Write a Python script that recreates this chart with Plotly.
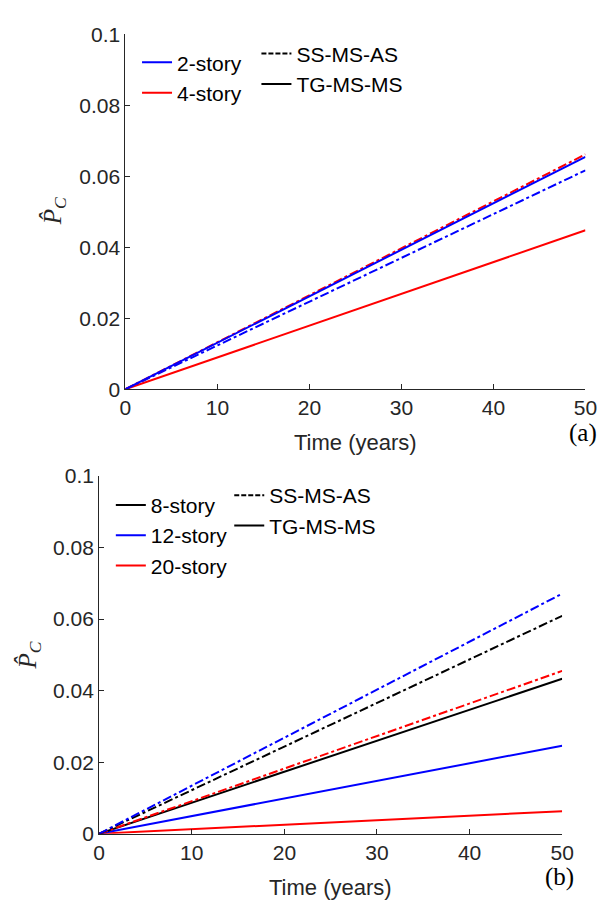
import plotly.graph_objects as go

# ---------------- data ----------------
time_years = [0, 50]

# (a) 2-story and 4-story
a_2story_ss = [0.0, 0.0617]
a_2story_tg = [0.0, 0.0655]
a_4story_ss = [0.0, 0.0662]
a_4story_tg = [0.0, 0.0448]

# (b) 8-, 12-, 20-story
b_8story_ss = [0.0, 0.0609]
b_8story_tg = [0.0, 0.0433]
b_12story_ss = [0.0, 0.0671]
b_12story_tg = [0.0, 0.0246]
b_20story_ss = [0.0, 0.0455]
b_20story_tg = [0.0, 0.0063]

x_ticks = [0, 10, 20, 30, 40, 50]
y_ticks = [0, 0.02, 0.04, 0.06, 0.08, 0.1]
y_ticktext = ["0", "0.02", "0.04", "0.06", "0.08", "0.1"]

W, H = 613, 910
BLUE, RED, BLACK = "#0000FF", "#FF0000", "#000000"
AX = "#262626"
LW = 2

fig = go.Figure()

def line(x, y, color, dash, xa, ya):
    fig.add_trace(go.Scatter(x=x, y=y, mode="lines", xaxis=xa, yaxis=ya,
                             line=dict(color=color, width=LW, dash=dash),
                             showlegend=False, hoverinfo="skip"))

# panel (a)
line(time_years, a_4story_tg, RED, "solid", "x", "y")
line(time_years, a_2story_ss, BLUE, "dashdot", "x", "y")
line(time_years, a_4story_ss, RED, "dashdot", "x", "y")
line(time_years, a_2story_tg, BLUE, "solid", "x", "y")

# panel (b)
line(time_years, b_20story_tg, RED, "solid", "x2", "y2")
line(time_years, b_12story_tg, BLUE, "solid", "x2", "y2")
line(time_years, b_8story_tg, BLACK, "solid", "x2", "y2")
line(time_years, b_20story_ss, RED, "dashdot", "x2", "y2")
line(time_years, b_8story_ss, BLACK, "dashdot", "x2", "y2")
line(time_years, b_12story_ss, BLUE, "dashdot", "x2", "y2")

LEG_DASH = "5px,2px"

def leg(name, color, dash, legend, xa, ya):
    fig.add_trace(go.Scatter(x=[None], y=[None], mode="lines", name=name,
                             xaxis=xa, yaxis=ya, legend=legend,
                             line=dict(color=color, width=LW, dash=dash)))

leg("2-story", BLUE, "solid", "legend", "x", "y")
leg("4-story", RED, "solid", "legend", "x", "y")
leg("SS-MS-AS", BLACK, LEG_DASH, "legend2", "x", "y")
leg("TG-MS-MS", BLACK, "solid", "legend2", "x", "y")
leg("8-story", BLACK, "solid", "legend3", "x2", "y2")
leg("12-story", BLUE, "solid", "legend3", "x2", "y2")
leg("20-story", RED, "solid", "legend3", "x2", "y2")
leg("SS-MS-AS", BLACK, LEG_DASH, "legend4", "x2", "y2")
leg("TG-MS-MS", BLACK, "solid", "legend4", "x2", "y2")

def px(x):
    return x / W

def py(y):
    return 1 - y / H

tickfont = dict(family="Liberation Sans, Arial, sans-serif", size=21, color=AX)
axcommon = dict(showline=True, linecolor=AX, linewidth=1, ticks="inside",
                ticklen=5, tickcolor=AX, showgrid=False, zeroline=False,
                tickfont=tickfont, mirror=False)

legfont = dict(family="Liberation Sans, Arial, sans-serif", size=21, color="black")
legcommon = dict(font=legfont, bgcolor="rgba(0,0,0,0)", borderwidth=0,
                 xanchor="left", yanchor="top", tracegroupgap=0)

fig.update_layout(
    width=W, height=H, margin=dict(l=0, r=0, t=0, b=0),
    paper_bgcolor="white", plot_bgcolor="white",
    xaxis=dict(domain=[px(123), px(597)], range=[0, 50], tickvals=x_ticks,
               anchor="y", **axcommon),
    yaxis=dict(domain=[py(387), py(23)], range=[0, 0.1], tickvals=y_ticks,
               ticktext=y_ticktext, anchor="x", **axcommon),
    xaxis2=dict(domain=[px(96), px(573)], range=[0, 50], tickvals=x_ticks,
                anchor="y2", **axcommon),
    yaxis2=dict(domain=[py(843), py(476)], range=[0, 0.1], tickvals=y_ticks,
                ticktext=y_ticktext, anchor="x2", **axcommon),
    legend=dict(x=px(135), y=py(31), **legcommon),
    legend2=dict(x=px(258), y=py(22), **legcommon),
    legend3=dict(x=px(108), y=py(485), **legcommon),
    legend4=dict(x=px(230), y=py(475), **legcommon),
    showlegend=True,
)

labfont = dict(family="Liberation Sans, Arial, sans-serif", size=22, color=AX)
serif_it = dict(family="Liberation Serif, Times New Roman, serif", size=25, color=AX)
serif = dict(family="Liberation Serif, Times New Roman, serif", size=25, color="black")

ann = [
    dict(text="Time (years)", x=px(360), y=py(442), font=labfont),
    dict(text="Time (years)", x=px(334), y=py(898), font=labfont),
    dict(text="<i>P̂</i><sub><i>C</i></sub>", x=px(50), y=py(205), font=serif_it, textangle=-90),
    dict(text="<i>P̂</i><sub><i>C</i></sub>", x=px(24), y=py(660), font=serif_it, textangle=-90),
    dict(text="(a)", x=px(594), y=py(432), font=serif),
    dict(text="(b)", x=px(570), y=py(887), font=serif),
]
for a in ann:
    fig.add_annotation(xref="paper", yref="paper", showarrow=False,
                       xanchor="center", yanchor="middle", **a)

fig.write_html("out.html")
